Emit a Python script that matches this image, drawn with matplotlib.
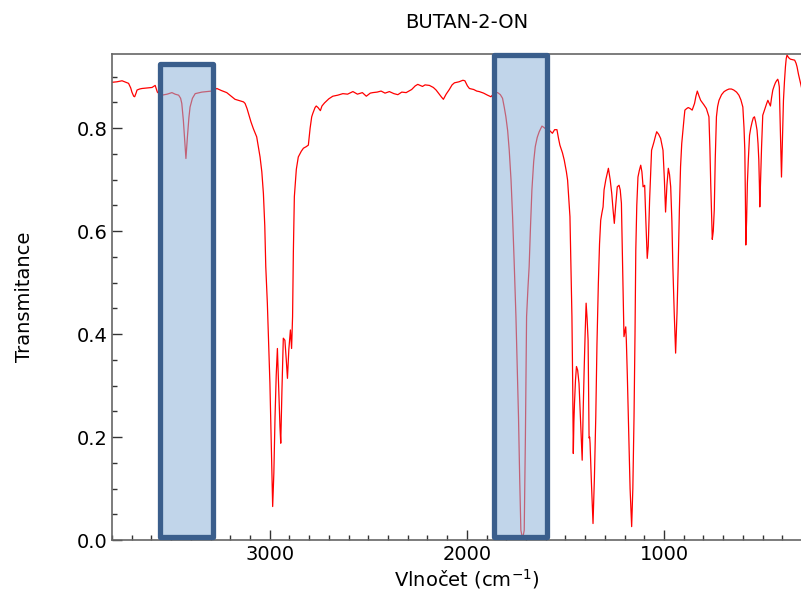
import matplotlib
matplotlib.use("Agg")
import matplotlib.pyplot as plt
from matplotlib.patches import Rectangle
from matplotlib.ticker import MultipleLocator

# ---- data ----
wavenumber = [
    3800, 3775, 3749, 3730, 3716, 3705, 3699, 3690, 3685, 3678, 3673, 3660, 3648, 3620,
    3597, 3581, 3570, 3555, 3547, 3520, 3505, 3496, 3480, 3462, 3452, 3446, 3438, 3432,
    3425, 3418, 3410, 3404, 3392, 3378, 3344, 3320, 3294, 3268, 3245, 3218, 3195, 3176,
    3150, 3133, 3125, 3115, 3108, 3095, 3083, 3066, 3049, 3040, 3032, 3025, 3020, 3012,
    3007, 2999, 2992, 2985, 2979, 2973, 2967, 2961, 2955, 2948, 2944, 2938, 2931, 2923,
    2916, 2910, 2903, 2895, 2889, 2884, 2880, 2875, 2865, 2855, 2840, 2829, 2815, 2804,
    2795, 2787, 2781, 2770, 2764, 2755, 2743, 2735, 2722, 2700, 2680, 2655, 2629, 2605,
    2578, 2555, 2530, 2510, 2490, 2477, 2455, 2435, 2415, 2393, 2370, 2350, 2330, 2308,
    2280, 2262, 2249, 2225, 2212, 2190, 2170, 2156, 2140, 2128, 2119, 2105, 2089, 2075,
    2063, 2040, 2020, 2010, 1997, 1987, 1965, 1950, 1937, 1915, 1895, 1878, 1865, 1855,
    1844, 1830, 1819, 1810, 1802, 1793, 1785, 1776, 1768, 1760, 1751, 1745, 1738, 1732,
    1726, 1717, 1709, 1703, 1697, 1690, 1684, 1677, 1670, 1661, 1653, 1643, 1633, 1619,
    1608, 1595, 1582, 1566, 1555, 1543, 1535, 1528, 1515, 1506, 1495, 1489, 1477, 1467,
    1463, 1460, 1457, 1454, 1449, 1444, 1438, 1431, 1423, 1415, 1410, 1405, 1400, 1395,
    1390, 1385, 1380, 1377, 1375, 1368, 1360, 1353, 1346, 1340, 1333, 1327, 1321, 1315,
    1309, 1304, 1295, 1282, 1273, 1265, 1258, 1252, 1245, 1237, 1228, 1222, 1216, 1208,
    1203, 1198, 1194, 1191, 1186, 1181, 1172, 1164, 1158, 1152, 1147, 1143, 1138, 1132,
    1125, 1118, 1112, 1106, 1098, 1092, 1085, 1080, 1073, 1067, 1063, 1051, 1043, 1037,
    1027, 1017, 1005, 998, 992, 985, 978, 972, 966, 960, 955, 948, 941, 934,
    928, 922, 916, 910, 904, 898, 894, 885, 877, 867, 857, 845, 838, 831,
    822, 814, 797, 785, 780, 772, 767, 763, 758, 755, 750, 745, 740, 734,
    728, 721, 708, 695, 682, 670, 658, 646, 632, 620, 610, 600, 594, 590,
    587, 585, 581, 577, 572, 566, 560, 553, 547, 541, 535, 528, 523, 519,
    516, 514, 510, 505, 499, 492, 485, 479, 473, 466, 460, 454, 448, 441,
    435, 429, 423, 419, 415, 410, 404, 399, 394, 389, 384, 380, 376, 368,
    359, 348, 337, 330, 325, 318, 311, 300,
]
transmittance = [
    0.889, 0.890, 0.892, 0.889, 0.887, 0.878, 0.870, 0.862, 0.861, 0.868, 0.874, 0.876, 0.877, 0.878,
    0.879, 0.883, 0.870, 0.865, 0.864, 0.866, 0.868, 0.869, 0.866, 0.864, 0.858, 0.848, 0.815, 0.780,
    0.741, 0.780, 0.820, 0.841, 0.858, 0.867, 0.870, 0.871, 0.872, 0.877, 0.873, 0.869, 0.862, 0.856,
    0.853, 0.851, 0.848, 0.838, 0.829, 0.812, 0.799, 0.783, 0.744, 0.715, 0.673, 0.610, 0.531, 0.460,
    0.401, 0.305, 0.180, 0.065, 0.130, 0.239, 0.320, 0.372, 0.300, 0.220, 0.188, 0.290, 0.392, 0.388,
    0.350, 0.314, 0.370, 0.408, 0.372, 0.434, 0.560, 0.667, 0.720, 0.744, 0.755, 0.761, 0.764, 0.767,
    0.800, 0.822, 0.829, 0.840, 0.843, 0.840, 0.834, 0.843, 0.849, 0.857, 0.862, 0.864, 0.867, 0.866,
    0.871, 0.866, 0.869, 0.862, 0.868, 0.869, 0.870, 0.872, 0.868, 0.871, 0.867, 0.865, 0.870, 0.869,
    0.875, 0.882, 0.885, 0.881, 0.884, 0.883, 0.879, 0.874, 0.866, 0.860, 0.856, 0.866, 0.875, 0.884,
    0.888, 0.890, 0.893, 0.892, 0.882, 0.877, 0.875, 0.872, 0.871, 0.868, 0.864, 0.861, 0.866, 0.869,
    0.869, 0.865, 0.858, 0.840, 0.822, 0.795, 0.757, 0.700, 0.628, 0.540, 0.434, 0.340, 0.239, 0.120,
    0.019, 0.002, 0.019, 0.200, 0.434, 0.490, 0.531, 0.610, 0.680, 0.735, 0.764, 0.782, 0.793, 0.804,
    0.801, 0.797, 0.796, 0.790, 0.797, 0.797, 0.780, 0.767, 0.752, 0.738, 0.715, 0.699, 0.628, 0.434,
    0.300, 0.168, 0.230, 0.265, 0.310, 0.337, 0.330, 0.304, 0.230, 0.155, 0.250, 0.330, 0.400, 0.460,
    0.430, 0.388, 0.198, 0.200, 0.188, 0.110, 0.032, 0.120, 0.239, 0.380, 0.498, 0.575, 0.621, 0.635,
    0.647, 0.680, 0.700, 0.722, 0.700, 0.673, 0.640, 0.615, 0.650, 0.686, 0.689, 0.680, 0.654, 0.500,
    0.395, 0.405, 0.414, 0.388, 0.320, 0.239, 0.100, 0.026, 0.100, 0.239, 0.400, 0.563, 0.650, 0.705,
    0.718, 0.728, 0.715, 0.686, 0.689, 0.620, 0.547, 0.570, 0.660, 0.720, 0.757, 0.773, 0.785, 0.793,
    0.788, 0.780, 0.757, 0.700, 0.637, 0.690, 0.722, 0.710, 0.686, 0.620, 0.531, 0.440, 0.363, 0.440,
    0.531, 0.640, 0.725, 0.770, 0.796, 0.820, 0.835, 0.838, 0.840, 0.838, 0.835, 0.848, 0.862, 0.872,
    0.862, 0.854, 0.845, 0.838, 0.832, 0.822, 0.760, 0.693, 0.620, 0.584, 0.600, 0.641, 0.740, 0.822,
    0.842, 0.854, 0.865, 0.871, 0.874, 0.876, 0.876, 0.874, 0.870, 0.864, 0.855, 0.841, 0.800, 0.757,
    0.660, 0.573, 0.620, 0.693, 0.740, 0.786, 0.800, 0.812, 0.820, 0.822, 0.812, 0.796, 0.770, 0.738,
    0.690, 0.647, 0.700, 0.764, 0.825, 0.833, 0.841, 0.848, 0.854, 0.848, 0.843, 0.860, 0.874, 0.882,
    0.888, 0.892, 0.895, 0.890, 0.880, 0.800, 0.705, 0.780, 0.854, 0.890, 0.919, 0.935, 0.942, 0.937,
    0.934, 0.933, 0.932, 0.926, 0.919, 0.905, 0.893, 0.875,
]

# highlighted regions: (high wavenumber, low wavenumber, bottom T, top T)
highlight_regions = [
    (3559, 3289, 0.005, 0.924),
    (1861, 1591, 0.005, 0.942),
]

title = "BUTAN-2-ON"
xlabel = "Vlnočet (cm$^{-1}$)"
ylabel = "Transmitance"

# ---- figure ----
fig = plt.figure(figsize=(8.01, 5.92), dpi=100)
ax = fig.add_axes([112 / 801, 52 / 592, 709.7 / 801, 486 / 592])

ax.plot(wavenumber, transmittance, color="#ff0000", linewidth=0.9, zorder=2)

for hi, lo, b, t in highlight_regions:
    rect = Rectangle((lo, b), hi - lo, t - b,
                     facecolor=(0.56, 0.70, 0.85, 0.55),
                     edgecolor="#3a5e8c", linewidth=3.8,
                     joinstyle="round", zorder=3, clip_on=False)
    ax.add_patch(rect)

ax.set_xlim(3800, 200)
ax.set_ylim(0, 0.944)

ax.xaxis.set_major_locator(MultipleLocator(1000))
ax.xaxis.set_minor_locator(MultipleLocator(100))
ax.yaxis.set_major_locator(MultipleLocator(0.2))
ax.yaxis.set_minor_locator(MultipleLocator(0.05))

ax.tick_params(which="both", direction="in", top=False, right=False,
               color="#333333", labelsize=14, width=1.0)
ax.tick_params(which="major", length=7)
ax.tick_params(which="minor", length=3.5)

for s in ax.spines.values():
    s.set_color("#666666")
    s.set_linewidth(1.2)

ax.set_xlabel(xlabel, fontsize=14)
ax.set_ylabel(ylabel, fontsize=14)
ax.xaxis.set_label_coords(0.5, -0.055)
ax.yaxis.set_label_coords(-0.110, 0.5)
ax.set_title(title, fontsize=14, pad=19)

fig.savefig("out.png", dpi=100)
